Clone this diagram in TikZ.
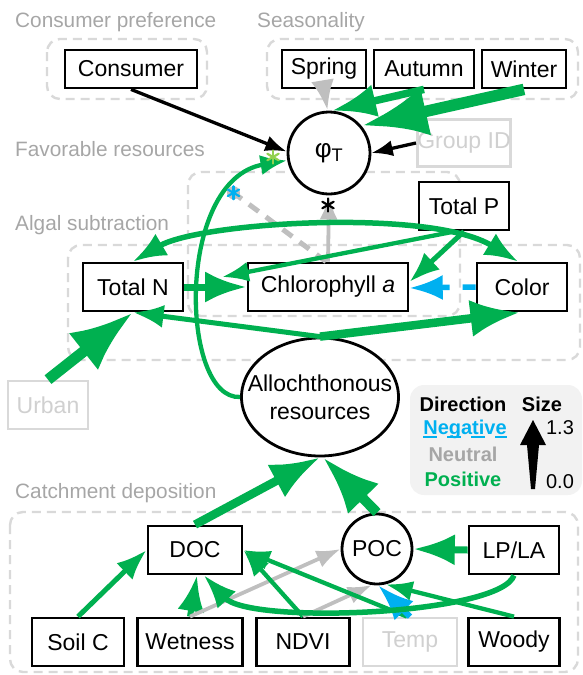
\documentclass[tikz,border=0pt]{standalone}
\usepackage{fontspec}
\setmainfont{Liberation Sans}
\usetikzlibrary{arrows.meta,shapes.geometric,calc}
\definecolor{pgreen}{HTML}{00B050}
\definecolor{nblue}{HTML}{00B0F0}
\definecolor{ngray}{HTML}{BFBFBF}
\definecolor{grpgray}{HTML}{D9D9D9}
\definecolor{lblgray}{HTML}{A6A6A6}
\definecolor{faint}{HTML}{D0D0D0}
\definecolor{ltgreen}{HTML}{92D050}
\definecolor{legfill}{HTML}{F2F2F2}
\begin{document}
\begin{tikzpicture}[x=1pt,y=-1pt,
  every node/.style={inner sep=0pt},
  nfont/.style={font=\fontsize{23}{28}\selectfont},
  box/.style={nfont, draw, line width=2.8pt, fill=white, minimum height=48pt},
  tbox/.style={box, minimum height=38pt},
  fbox/.style={box, draw=grpgray, text=faint},
  circ/.style={nfont, draw, circle, line width=2.8pt, fill=white},
  grp/.style={draw=grpgray, line width=2.4pt, dash pattern=on 9pt off 6pt, rounded corners=13pt},
  glabel/.style={font=\fontsize{20.8}{24}\selectfont, text=lblgray, anchor=base west},
  lfont/.style={font=\fontsize{20}{24}\selectfont},
  arr/.style={-{Latex[scale=1.2]}},
  peff/.style={arr, draw=pgreen},
  neff/.style={arr, draw=nblue},
  zeff/.style={arr, draw=ngray},
  astr/.pic={\foreach \a in {90,150,210,270,330,30}{\draw[line width=2.2pt, line cap=round] (0,0) -- (\a:6.5);}},
]
\useasboundingbox (0,0) rectangle (582,675);

% groups
\draw[grp] (47,39) rectangle (207,99);
\draw[grp] (267,39) rectangle (578,99);
\draw[grp] (188,172) rectangle (460,316);
\draw[grp] (68,245) rectangle (580,360);
\draw[grp] (10,512) rectangle (578,672);
\node[glabel] (lcp) at (15,27) {Consumer preference};
\node[glabel] (lsea) at (257,27) {Seasonality};
\node[glabel] (lfav) at (15,156) {Favorable resources};
\node[glabel] (lalg) at (15,230) {Algal subtraction};
\node[glabel] (lcat) at (15,498) {Catchment deposition};

% legend
\fill[legfill, rounded corners=14pt] (410,385) rectangle (582,495);
\node[lfont, font=\fontsize{20}{24}\selectfont\bfseries] (ldir) at (463,404) {Direction};
\node[lfont, font=\fontsize{20}{24}\selectfont\bfseries] (lsize) at (542,404) {Size};
\node[lfont, font=\fontsize{20}{24}\selectfont\bfseries, text=nblue] (lneg) at (465,429) {Negative};
\node[lfont, font=\fontsize{20}{24}\selectfont\bfseries, text=lblgray] (lneu) at (463,454) {Neutral};
\node[lfont, font=\fontsize{20}{24}\selectfont\bfseries, text=pgreen] (lpos) at (463,479) {Positive};
\draw[nblue, line width=2.4pt, dash pattern=on 14pt off 10pt] ([yshift=-3pt]lneg.base west) -- ([yshift=-3pt]lneg.base east);
\fill (531,489) -- (535,489) -- (539,445) -- (546,445) -- (533,420) -- (520,445) -- (527,445) -- cycle;
\node[lfont] (l13) at (560,428) {1.3};
\node[lfont] (l00) at (560,482) {0.0};

% nodes
\node[tbox, minimum width=132pt] (cons) at (131,69) {Consumer};
\node[tbox, minimum width=84pt] (spr) at (324,69) {Spring};
\node[tbox, minimum width=100pt] (aut) at (424,69) {Autumn};
\node[tbox, minimum width=84pt] (win) at (524,69) {Winter};
\node[circ, minimum size=82pt, font=\fontsize{26}{28}\selectfont] (phi) at (329,153) {φ\textsubscript{T}};
\node[fbox, minimum width=93pt, minimum height=47pt] (gid) at (464,143) {Group ID};
\node[box, minimum width=90pt] (tp) at (464,206) {Total P};
\node[box, minimum width=100pt] (tn) at (133,287) {Total N};
\node[box, minimum width=160pt] (chl) at (328,287) {Chlorophyll \textit{a}};
\node[box, minimum width=90pt] (col) at (522,287) {Color};
\node[nfont, ellipse, draw, line width=2.8pt, fill=white, inner xsep=-25pt, inner ysep=0pt,
      minimum width=157pt, minimum height=118pt, align=center] (allo) at (320,397) {Allochthonous\\resources};
\node[fbox, minimum width=80pt] (urb) at (48,405) {Urban};
\node[box, minimum width=94pt] (doc) at (195,550) {DOC};
\node[circ, minimum size=70pt] (poc) at (377,549) {POC};
\node[box, minimum width=90pt] (lp) at (514,550) {LP/LA};
\node[box, minimum width=92pt] (soil) at (78,642) {Soil C};
\node[box, minimum width=105pt] (wet) at (190,642) {Wetness};
\node[box, minimum width=93pt] (ndvi) at (303,642) {NDVI};
\node[fbox, minimum width=94pt] (temp) at (410,642) {Temp};
\node[box, minimum width=91pt] (wood) at (514,642) {Woody};
\coordinate (nmod) at (222,277);

% top edges
\draw[arr, line width=3.3pt] (cons.south) -- (phi.178);
\draw[zeff, line width=5pt] (spr.south) -- (phi.92);
\draw[peff, line width=7.5pt] (aut.south) -- (phi.86);
\draw[peff, line width=11.5pt] (win.south) -- (phi.40);
\draw[arr, line width=3.3pt] (gid.west) -- (phi.east);
\draw[zeff, line width=3.8pt] (chl.north) -- (phi.south);
\draw[peff, line width=4.3pt] (allo.west) .. controls (180,400) and (175,180) .. (phi.190) coordinate[pos=0.8] (ix);
\draw[ngray, line width=5pt, dash pattern=on 12pt off 9pt] ([xshift=-2pt]chl.north) -- (ix);
\fill[ngray] (ix) circle (6.5pt);

% algal edges
\draw[peff, line width=7pt] (tn.east) -- (chl.west);
\draw[peff, line width=5pt] (tp.south) -- ([yshift=5pt]chl.east);
\draw[neff, line width=5.5pt, dash pattern=on 13pt off 13pt] (col.west) -- ([yshift=-1pt]chl.east);
\draw[pgreen, line width=5.5pt, {Latex[scale=1.2]}-{Latex[scale=1.2]}] (tn.north) .. controls (200,222) and (430,208) .. ([xshift=-4pt]col.north);
\draw[peff, line width=4.3pt] ([xshift=-9pt]tp.south) -- (nmod);
\draw[peff, line width=5pt] (allo.north) -- (tn.south);
\draw[peff, line width=8.5pt] (allo.north) -- ([xshift=-2pt]col.south);
\draw[peff, line width=11pt] (urb.north) -- (tn.south);

% catchment edges
\draw[peff, line width=8.5pt] (doc.north) -- (allo.south);
\draw[peff, line width=10pt] (poc.north) -- ([xshift=3pt]allo.south);
\draw[peff, line width=5pt] (soil.north) -- (doc.west);
\draw[peff, line width=6pt] (wet.north) -- ([xshift=2pt]doc.south);
\draw[zeff, line width=3.8pt] (wet.north) -- (poc.west);
\draw[peff, line width=4.3pt] (ndvi.north) -- (doc.east);
\draw[zeff, line width=3.8pt] (ndvi.north) -- (poc.262);
\draw[peff, line width=4.3pt] ([xshift=-3pt]temp.north) -- (doc.east);
\draw[neff, line width=6pt] (temp.north) -- (poc.272);
\draw[peff, line width=4.3pt] (wood.north) -- (poc.284);
\draw[peff, line width=5.5pt] (lp.south) .. controls (500,615) and (250,625) .. ([xshift=9pt]doc.south);
\draw[peff, line width=7pt] (lp.west) -- (poc.east);

% asterisks
\pic[black] (a1) at (328,205) {astr};
\pic[ltgreen] (a2) at (273,157) {astr};
\pic[nblue] (a3) at (ix) {astr};
\end{tikzpicture}
\end{document}
